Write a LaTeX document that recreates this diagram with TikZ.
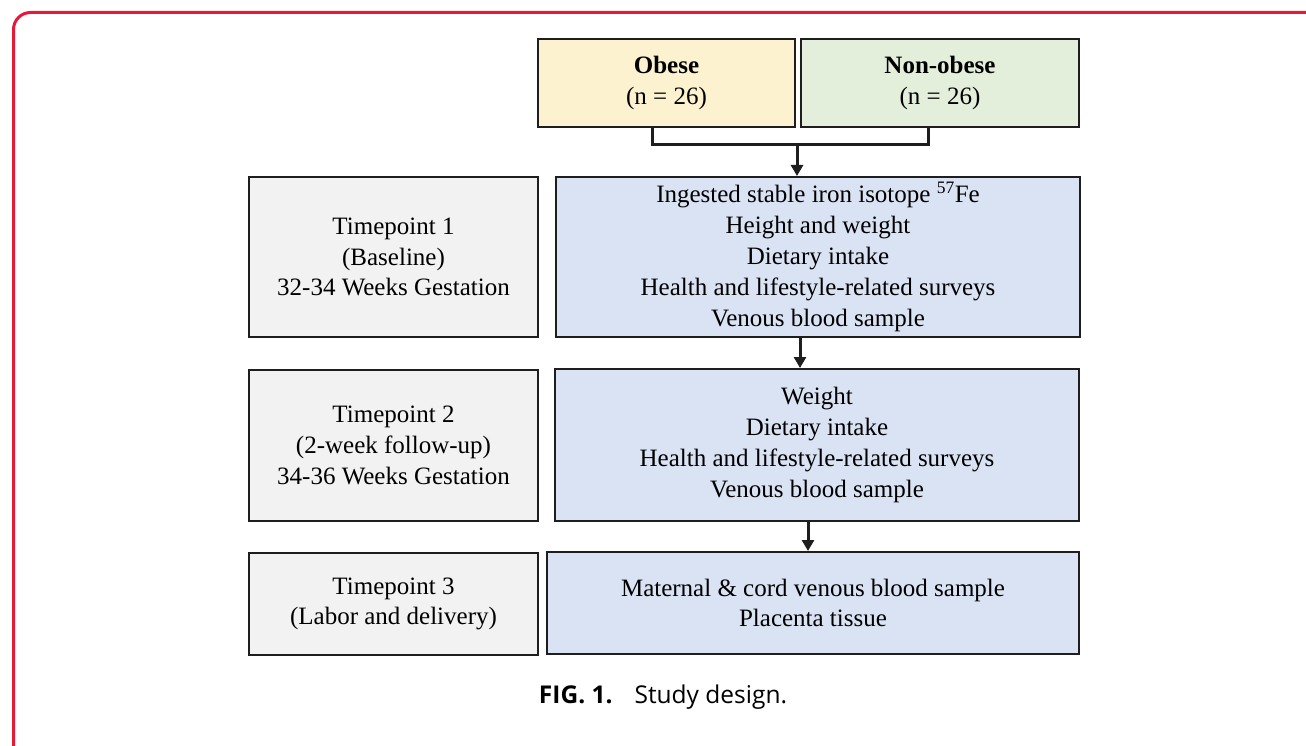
\documentclass[tikz,border=0pt]{standalone}
\usepackage{fontspec}
\setmainfont{Liberation Serif}
\newfontfamily\capfont{Open Sans}
\usetikzlibrary{arrows.meta}
\definecolor{framered}{RGB}{232,24,56}
\definecolor{obesefill}{RGB}{253,242,208}
\definecolor{nonobfill}{RGB}{227,239,218}
\definecolor{tpfill}{RGB}{242,242,242}
\definecolor{infofill}{RGB}{218,227,243}
\definecolor{edgecol}{RGB}{30,30,30}
\tikzset{
  boxbase/.style={draw=edgecol, line width=2pt, align=center, inner sep=0pt,
    font=\fontsize{25}{30.8}\selectfont},
  groupbox/.style={boxbase},
  tpbox/.style={boxbase, fill=tpfill},
  infobox/.style={boxbase, fill=infofill},
  conn/.style={draw=edgecol, line width=3pt},
  arr/.style={draw=edgecol, line width=3pt, -{Triangle[length=11pt,width=12pt]}}
}
\begin{document}
\begin{tikzpicture}[x=1pt,y=-1pt]
\useasboundingbox (0,0) rectangle (1306,746);
\clip (0,0) rectangle (1306,746);
\draw[framered, line width=3pt, rounded corners=17pt] (13.5,12.5) rectangle (1340,770);

% group boxes
\node[groupbox, fill=obesefill, minimum width=257pt, minimum height=88pt] (ob) at (666.5,83) {\textbf{Obese}\\(n = 26)};
\node[groupbox, fill=nonobfill, minimum width=278pt, minimum height=88pt] (nob) at (940,83) {\textbf{Non-obese}\\(n = 26)};

% timepoint 1
\node[tpbox, minimum width=289pt, minimum height=160pt] (tp1) at (393.5,257) {Timepoint 1\\(Baseline)\\32-34 Weeks Gestation};
\node[infobox, minimum width=524pt, minimum height=160pt] (in1) at (818,257) {Ingested stable iron isotope \textsuperscript{57}Fe\\Height and weight\\Dietary intake\\Health and lifestyle-related surveys\\Venous blood sample};

% timepoint 2
\node[tpbox, minimum width=289pt, minimum height=151pt] (tp2) at (393.5,445.5) {Timepoint 2\\(2-week follow-up)\\34-36 Weeks Gestation};
\node[infobox, minimum width=524pt, minimum height=152pt] (in2) at (817,445) {Weight\\Dietary intake\\Health and lifestyle-related surveys\\Venous blood sample};

% timepoint 3
\node[tpbox, minimum width=289pt, minimum height=102pt] (tp3) at (393.5,604) {Timepoint 3\\(Labor and delivery)};
\node[infobox, minimum width=532pt, minimum height=102pt] (in3) at (813,603) {Maternal \& cord venous blood sample\\Placenta tissue};

% connectors
\coordinate (jl) at (652,145);
\coordinate (jr) at (928,145);
\coordinate (jm) at (797,145);
\draw[conn] (ob.south -| jl) -- (jl) -- (jr) -- (nob.south -| jr);
\draw[arr] (jm) -- (jm |- in1.north);
\draw[arr] (in1.south -| 800,0) -- (800,0 |- in2.north);
\draw[arr] (in2.south -| 808,0) -- (808,0 |- in3.north);

% caption
\node[font=\capfont\fontsize{24.5}{28}\selectfont, anchor=center] (cap) at (663,697) {\textbf{FIG. 1.}\hspace{22pt}Study design.};
\end{tikzpicture}
\end{document}
